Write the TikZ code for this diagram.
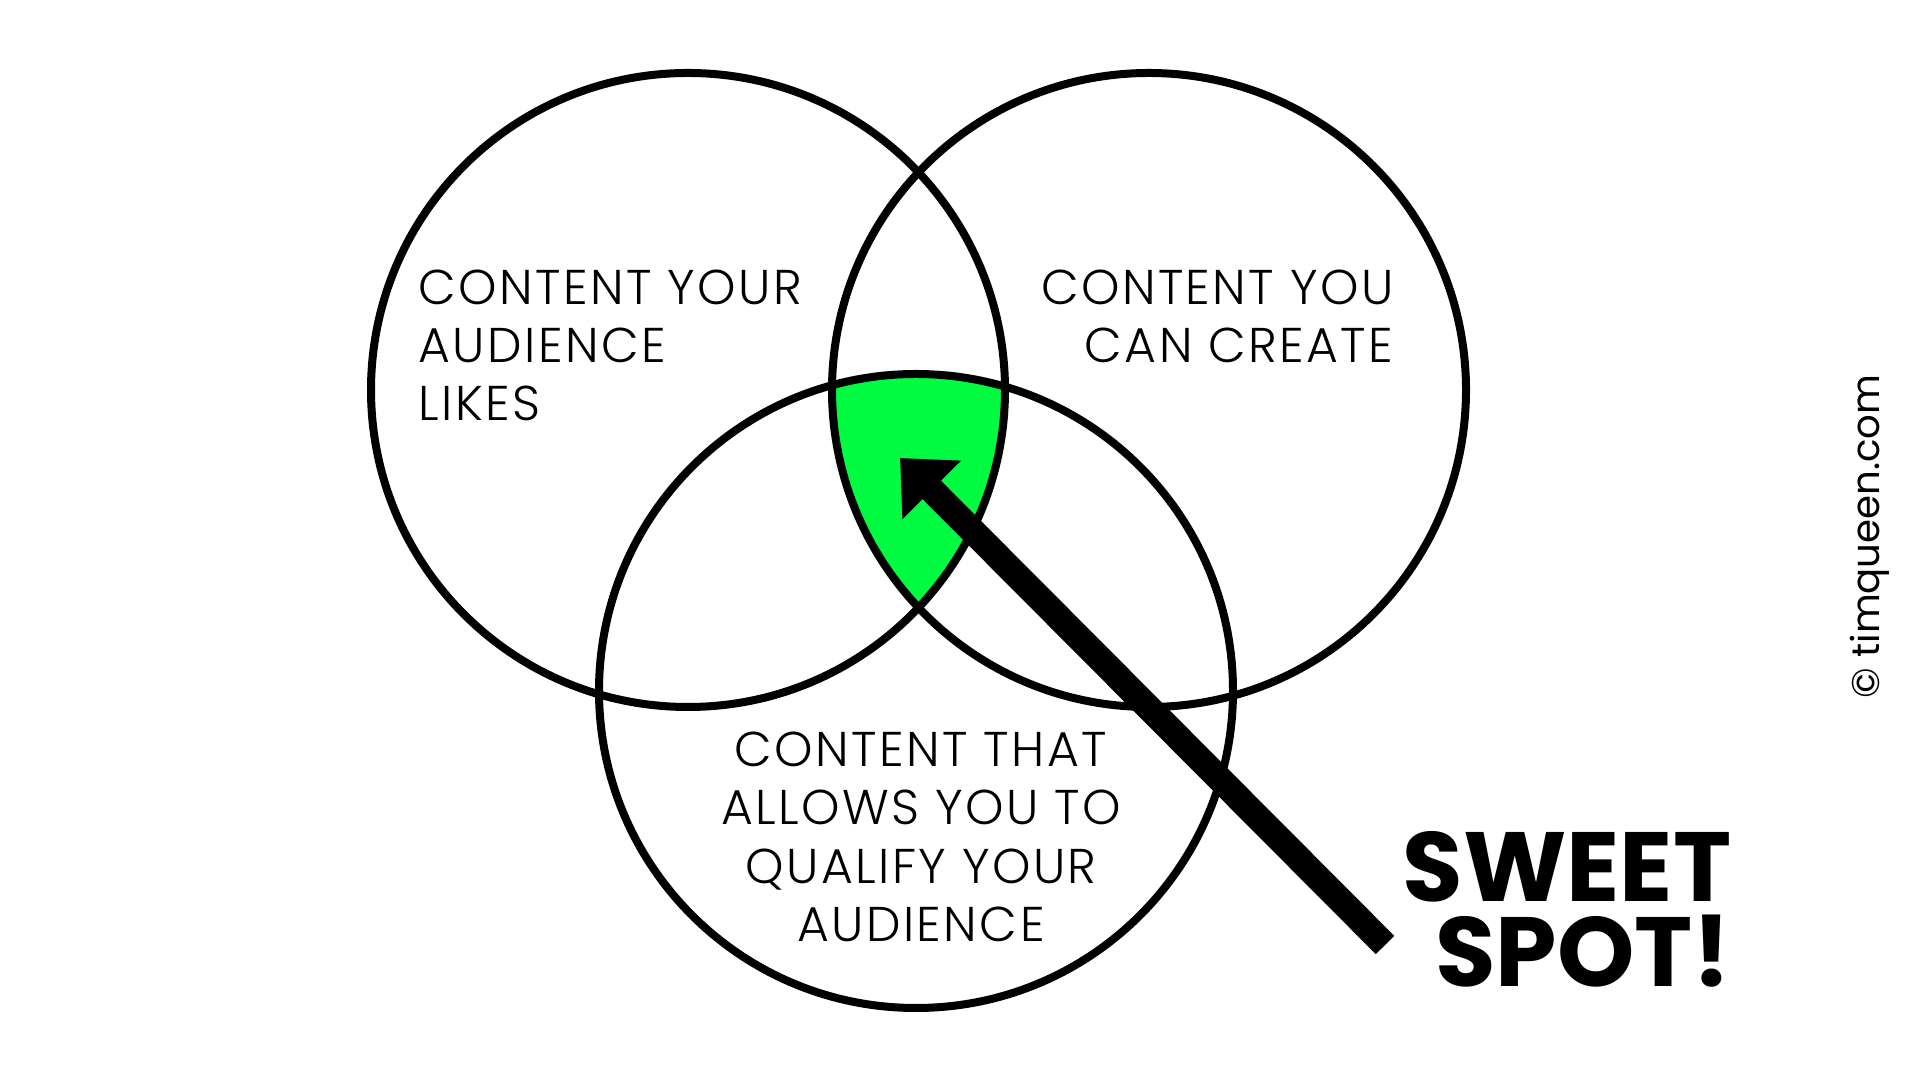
\documentclass[tikz,border=0pt]{standalone}
\usepackage{fontspec}
\setmainfont{Poppins}
\newfontfamily\lightfont{Poppins Light}[LetterSpace=5]
\usepackage{tikz}
\usetikzlibrary{arrows.meta}

\definecolor{sweetgreen}{RGB}{0,252,64}
\tikzset{
    venn/.style={line width=0.08cm},
    venntext/.style={inner sep=0pt, font=\lightfont\fontsize{13.9}{16.6}\selectfont},
}

\begin{document}
\begin{tikzpicture}
    \useasboundingbox[fill=white] (0,0) rectangle (19.2,10.8);
    \coordinate (likes) at (6.88,6.90);
    \coordinate (create) at (11.49,6.90);
    \coordinate (qualify) at (9.16,3.89);
    \begin{scope}
        \clip (likes) circle(3.17cm);
        \clip (create) circle(3.17cm);
        \fill[sweetgreen] (qualify) circle(3.17cm);
    \end{scope}
    \draw[venn] (likes) circle(3.17cm);
    \draw[venn] (create) circle(3.17cm);
    \draw[venn] (qualify) circle(3.17cm);
    \node[venntext, anchor=west, align=left] (likestext) at (4.18,7.345) {CONTENT YOUR\\AUDIENCE\\LIKES};
    \node[venntext, anchor=east, align=right] (createtext) at (13.94,7.635) {CONTENT YOU\\CAN CREATE};
    \node[venntext, align=center] (qualifytext) at (9.21,2.43) {CONTENT THAT\\ALLOWS YOU TO\\QUALIFY YOUR\\AUDIENCE};
    \node[inner sep=0pt, anchor=east, align=right, font=\bfseries\fontsize{28}{24.2}\selectfont] (sweet) at (17.32,1.71) {SWEET\\SPOT!};
    \node[inner sep=0pt, rotate=90, font=\fontsize{11}{13}\selectfont] (credit) at (18.70,5.435) {© timqueen.com};
    \coordinate (tail) at (13.85,1.35);
    \coordinate (spot) at (9.00,6.22);
    \draw[line width=0.26cm, -{Triangle[length=0.45cm, width=0.8cm]}] (tail) -- (spot);
\end{tikzpicture}
\end{document}
